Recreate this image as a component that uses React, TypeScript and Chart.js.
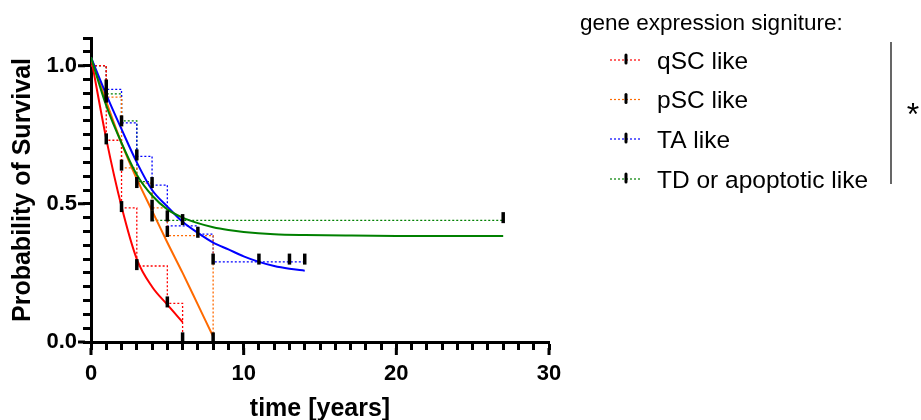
import React, { useEffect, useRef } from 'react';
import { Chart, registerables } from 'chart.js';

Chart.register(...registerables);

const FONT = "'Liberation Sans', Arial, Helvetica, sans-serif";

const seriesNames = ['qSC like', 'pSC like', 'TA like', 'TD or apoptotic like'];
const seriesColors = ['#FF0000', '#FF6A00', '#0000FF', '#008000'];
const legendTitle = 'gene expression signiture:';
const xTitle = 'time [years]';
const yTitle = 'Probability of Survival';
const xMajorTicks = [0, 10, 20, 30];
const yMajorTicks = [0, 0.5, 1.0];
const significance = '*';

// Kaplan-Meier step curves (time, survival)
const qscStepT = [0, 1, 2, 3, 5, 6];
const qscStepS = [1.0, 0.73, 0.485, 0.275, 0.14, 0.0];
const pscStepT = [0, 1, 2, 3, 4, 5, 8];
const pscStepS = [1.0, 0.886, 0.63, 0.575, 0.485, 0.385, 0.0];
const taStepT = [0, 1, 2, 3, 4, 5, 7, 8, 14];
const taStepS = [1.0, 0.914, 0.793, 0.672, 0.568, 0.42, 0.39, 0.29, 0.29];
const tdStepT = [0, 1, 2, 3, 4, 27];
const tdStepS = [1.0, 0.898, 0.8, 0.58, 0.44, 0.44];

// censor marks
const qscCensT = [1, 2, 3, 5, 6];
const qscCensS = [0.735, 0.49, 0.28, 0.145, 0.015];
const pscCensT = [1, 2, 3, 4, 5, 8];
const pscCensS = [0.886, 0.64, 0.577, 0.495, 0.4, 0.015];
const taCensT = [1, 2, 3, 4, 5, 7, 8, 11, 13, 14];
const taCensS = [0.93, 0.8, 0.677, 0.577, 0.456, 0.397, 0.3, 0.3, 0.3, 0.3];
const tdCensT = [1, 4, 6, 27];
const tdCensS = [0.9, 0.456, 0.443, 0.45];

// fitted curves
const qscFitT = [0, 1, 2, 3, 4, 5, 6];
const qscFitS = [1.03, 0.735, 0.49, 0.3, 0.2, 0.135, 0.072];
const pscFitT = [0, 1, 2, 3, 4, 5, 6, 7, 8];
const pscFitS = [1.03, 0.87, 0.72, 0.59, 0.475, 0.36, 0.25, 0.135, 0.02];
const taFitT = [0, 1, 2, 3, 4, 5, 6, 7, 8, 9, 10, 11, 12, 13, 14];
const taFitS = [1.03, 0.895, 0.77, 0.65, 0.55, 0.49, 0.435, 0.395, 0.36, 0.335, 0.31, 0.29, 0.275, 0.265, 0.258];
const tdFitT = [0, 1, 2, 3, 4, 5, 6, 7, 8, 9, 10, 12, 14, 17, 20, 27];
const tdFitS = [1.03, 0.855, 0.72, 0.605, 0.53, 0.48, 0.45, 0.43, 0.415, 0.405, 0.398, 0.39, 0.387, 0.385, 0.384, 0.384];

const pts = (t: number[], s: number[]) => t.map((x, i) => ({ x, y: s[i] }));

const stepSets = [pts(qscStepT, qscStepS), pts(pscStepT, pscStepS), pts(taStepT, taStepS), pts(tdStepT, tdStepS)];
const censSets = [pts(qscCensT, qscCensS), pts(pscCensT, pscCensS), pts(taCensT, taCensS), pts(tdCensT, tdCensS)];
const fitSets = [pts(qscFitT, qscFitS), pts(pscFitT, pscFitS), pts(taFitT, taFitS), pts(tdFitT, tdFitS)];

const near = (v: number, arr: number[]) => arr.some((a) => Math.abs(a - v) < 1e-6);

const decorPlugin = {
  id: 'decor',
  afterDraw(chart: any) {
    const ctx = chart.ctx as CanvasRenderingContext2D;
    const area = chart.chartArea;
    const xs = chart.scales.x;
    const ys = chart.scales.y;
    ctx.save();
    // longer major ticks
    ctx.strokeStyle = '#000';
    ctx.lineWidth = 3;
    ctx.beginPath();
    yMajorTicks.forEach((v) => {
      const y = ys.getPixelForValue(v);
      ctx.moveTo(area.left - 13, y);
      ctx.lineTo(area.left - 6, y);
    });
    xMajorTicks.forEach((v) => {
      const x = xs.getPixelForValue(v);
      ctx.moveTo(x, area.bottom + 6);
      ctx.lineTo(x, area.bottom + 13);
    });
    ctx.stroke();

    // legend
    ctx.fillStyle = '#000';
    ctx.textBaseline = 'alphabetic';
    ctx.textAlign = 'left';
    ctx.font = `22.5px ${FONT}`;
    ctx.fillText(legendTitle, 580, 30);
    const rows = [60, 99.5, 139, 179];
    seriesNames.forEach((name, i) => {
      const y = rows[i];
      ctx.strokeStyle = seriesColors[i];
      ctx.lineWidth = 1.2;
      ctx.setLineDash([2, 2]);
      ctx.beginPath();
      ctx.moveTo(610, y);
      ctx.lineTo(642, y);
      ctx.stroke();
      ctx.setLineDash([]);
      ctx.strokeStyle = '#000';
      ctx.lineWidth = 3;
      ctx.lineCap = 'round';
      ctx.beginPath();
      ctx.moveTo(626, y - 5);
      ctx.lineTo(626, y + 3);
      ctx.stroke();
      ctx.lineCap = 'butt';
      ctx.font = `24.5px ${FONT}`;
      ctx.fillText(name, 657, y + 8.5);
    });
    ctx.strokeStyle = '#000';
    ctx.lineWidth = 1.2;
    ctx.beginPath();
    ctx.moveTo(891, 42);
    ctx.lineTo(891, 184);
    ctx.stroke();
    ctx.font = `32px ${FONT}`;
    ctx.textAlign = 'center';
    ctx.fillText(significance, 913, 125);
    ctx.restore();
  },
};

export default function App() {
  const ref = useRef<HTMLCanvasElement | null>(null);
  useEffect(() => {
    if (!ref.current) return;
    const datasets: any[] = [];
    censSets.forEach((d, i) => {
      datasets.push({
        label: seriesNames[i] + ' censored',
        data: d,
        showLine: false,
        pointStyle: 'line',
        pointRotation: 90,
        pointRadius: 5.5,
        pointBorderWidth: 3.5,
        pointBorderColor: '#000',
        pointBackgroundColor: '#000',
        order: 0,
        clip: false,
      });
    });
    fitSets.forEach((d, i) => {
      datasets.push({
        label: seriesNames[i] + ' fit',
        data: d,
        borderColor: seriesColors[i],
        borderWidth: 2,
        pointRadius: 0,
        cubicInterpolationMode: 'monotone',
        fill: false,
        order: 1 + (3 - i) * 0.1,
      });
    });
    stepSets.forEach((d, i) => {
      datasets.push({
        label: seriesNames[i],
        data: d,
        borderColor: seriesColors[i],
        borderWidth: 1.3,
        borderDash: [2, 2],
        pointRadius: 0,
        stepped: 'before',
        fill: false,
        order: 2,
      });
    });

    const chart = new Chart(ref.current, {
      type: 'line',
      data: { datasets },
      plugins: [decorPlugin],
      options: {
        animation: false,
        responsive: false,
        devicePixelRatio: 1,
        layout: { padding: { left: 0, top: 38, right: 921 - 549, bottom: 0 } },
        plugins: { legend: { display: false }, tooltip: { enabled: false } },
        scales: {
          x: {
            type: 'linear',
            min: 0,
            max: 30,
            afterFit: (s: any) => {
              s.height = 78;
            },
            ticks: {
              stepSize: 1,
              autoSkip: false,
              maxRotation: 0,
              color: '#000',
              padding: 11,
              font: { family: FONT, size: 22, weight: 'bold' },
              callback: (v: any) => (near(Number(v), xMajorTicks) ? String(v) : ''),
            },
            grid: {
              drawOnChartArea: false,
              drawTicks: true,
              tickLength: 8,
              tickWidth: 3,
              tickColor: '#000',
            },
            border: { color: '#000', width: 3 },
            title: {
              display: true,
              text: xTitle,
              color: '#000',
              padding: { top: 0, bottom: 0 },
              font: { family: FONT, size: 25, weight: 'bold', lineHeight: 0.85 },
            },
          },
          y: {
            type: 'linear',
            min: 0,
            max: 1.1,
            afterFit: (s: any) => {
              s.width = 91;
            },
            ticks: {
              stepSize: 0.05,
              autoSkip: false,
              color: '#000',
              padding: 6,
              font: { family: FONT, size: 22, weight: 'bold' },
              callback: (v: any) => (near(Number(v), yMajorTicks) ? Number(v).toFixed(1) : ''),
            },
            grid: {
              drawOnChartArea: false,
              drawTicks: true,
              tickLength: 8,
              tickWidth: 3,
              tickColor: '#000',
            },
            border: { color: '#000', width: 3 },
            title: {
              display: true,
              text: yTitle,
              color: '#000',
              padding: { top: 8, bottom: 0 },
              font: { family: FONT, size: 25, weight: 'bold' },
            },
          },
        },
      },
    });
    return () => chart.destroy();
  }, []);
  return (
    <div style={{ position: 'absolute', left: 0, top: 0, width: 921, height: 420, background: '#fff' }}>
      <canvas ref={ref} width={921} height={420} style={{ display: 'block' }} />
    </div>
  );
}
